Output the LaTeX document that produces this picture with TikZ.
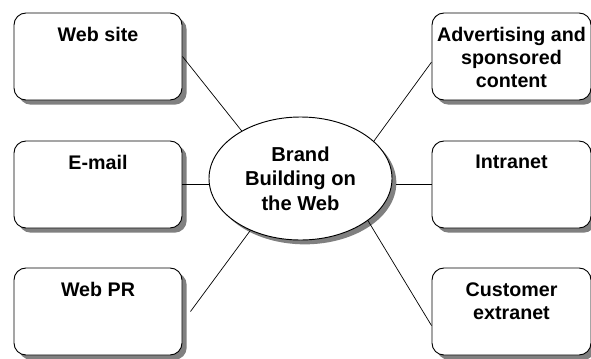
\documentclass[tikz,border=0pt]{standalone}
\usepackage{fontspec}
\setmainfont{Liberation Sans}
\usepackage{tikz}
\usetikzlibrary{shadows,shapes.geometric}

\begin{document}
\begin{tikzpicture}[x=0.03cm, y=-0.03cm,
  topic/.style={draw, line width=0.8pt, rounded corners=0.36cm, fill=white,
    minimum width=5.04cm, minimum height=2.61cm, inner sep=0pt,
    drop shadow={shadow xshift=0.14cm, shadow yshift=-0.14cm, fill=gray, opacity=1}},
  rtopic/.style={topic, minimum width=4.77cm},
  title/.style={font=\fontsize{16.8}{19.6}\selectfont\bfseries, align=center,
    inner sep=0pt, anchor=north, yshift=-12.5pt},
  hub/.style={ellipse, draw, line width=0.8pt, fill=white,
    minimum width=5.49cm, minimum height=3.69cm, inner sep=0pt,
    font=\fontsize{17.2}{20.8}\selectfont\bfseries, align=center,
    drop shadow={shadow xshift=0.13cm, shadow yshift=-0.13cm, fill=gray, opacity=1}},
  link/.style={line width=0.6pt}]
  \useasboundingbox (0,0) rectangle (591,358);
  \node[topic, label={[title]90:Web site}] (site) at (98,56.5) {};
  \node[topic, label={[title]90:E-mail}] (mail) at (98,184.5) {};
  \node[topic, label={[title]90:Web PR}] (pr) at (98,311.5) {};
  \node[rtopic, label={[title]90:Advertising and\\sponsored\\content}] (adv) at (511.5,56.5) {};
  \node[rtopic, label={[title]90:Intranet}] (intra) at (511.5,184.5) {};
  \node[rtopic, label={[title]90:Customer\\extranet}] (cust) at (511.5,311.5) {};
  \node[hub] (hub) at (300.5,178.5) {Brand\\Building on\\the Web};
  \draw[link] (site.east) -- (hub.141);
  \draw[link] (mail.east) -- (mail.east -| hub.west);
  \draw[link] ([xshift=0.24cm]pr.east) -- (hub.226);
  \draw[link] (adv.184) -- (hub.27);
  \draw[link] (intra.west) -- ([xshift=0.1cm]intra.west -| hub.east);
  \draw[link] (cust.190) -- (hub.-32);
\end{tikzpicture}
\end{document}
